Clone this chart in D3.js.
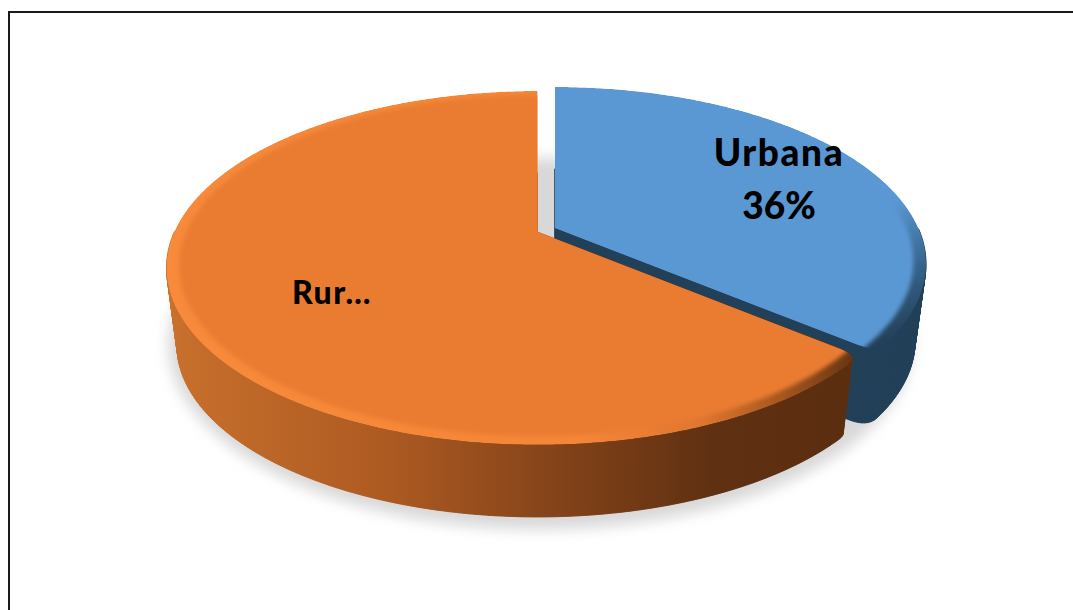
<!DOCTYPE html>
<html>
<head>
<meta charset="utf-8">
<script src="https://cdn.jsdelivr.net/npm/d3@7"></script>
<style>
html, body { margin: 0; padding: 0; background: #fff; overflow: hidden; }
svg { display: block; }
text { font-family: Lato, "Open Sans", sans-serif; font-weight: 900; fill: #000; text-anchor: middle; }
</style>
</head>
<body>
<svg id="chart" width="1073" height="610"></svg>
<script>
// Population share by area
const categories = ["Urbana", "Rural"];
const shares = [36, 64];
const shownLabels = [["Urbana", "36%"], ["Rur…"]];

const svg = d3.select("#chart");
const defs = svg.append("defs");

// Perspective view of the pie: the unit disc (u to the right, v toward the viewer)
// is mapped on to a tilted ellipse whose centre sits above the ellipse middle.
const tilt = 0.203;
const topFace = { x: 537.5, y: 232, a: 363.3, b: 169.6, pull: [17.5, -4] };
const baseFace = { x: 537.5, y: 310, a: 353.1, b: 164.9, pull: [17, -4] };

function project(face, u, v) {
  const w = 1 - tilt * v;
  return [face.x + face.a * u / w, face.y + face.b * v / w];
}

const pie = d3.pie().sort(null).value(d => d).startAngle(0).endAngle(2 * Math.PI);
const arcs = pie(shares);
const line = d3.line();

// Only the first slice is pulled away from the centre
const offset = (face, i) => (i === 0 ? face.pull : [0, 0]);
function point(face, i, r, t) {
  const [x, y] = project(face, r * Math.sin(t), -r * Math.cos(t));
  const [dx, dy] = offset(face, i);
  return [x + dx, y + dy];
}
function hub(face, i) {
  return point(face, i, 0, 0);
}
// Outer edge of a slice. The corner at the shared boundary of the two slices is rounded.
function rim(face, d, i) {
  const tip = i === 0 ? d.endAngle : d.startAngle;
  const back = i === 0 ? -1 : 1;
  const span = 0.05;
  const a0 = i === 0 ? d.startAngle : d.startAngle + span;
  const a1 = i === 0 ? d.endAngle - span : d.endAngle;
  const n = Math.ceil((a1 - a0) / 0.01);
  const arc = d3.range(n + 1).map(k => point(face, i, 1, a0 + (a1 - a0) * k / n));
  const p0 = point(face, i, 1, tip + back * span);
  const p1 = point(face, i, 1, tip);
  const p2 = point(face, i, 0.95, tip);
  const corner = d3.range(1, 9).map(k => {
    const s = k / 8;
    return [0, 1].map(c => (1 - s) * (1 - s) * p0[c] + 2 * s * (1 - s) * p1[c] + s * s * p2[c]);
  });
  return i === 0 ? [...arc, ...corner] : [...corner.reverse(), ...arc];
}
const sector = (face, d, i) => line([hub(face, i), ...rim(face, d, i)]) + "Z";
const disc = (face, i, r) => line(d3.range(0, 2 * Math.PI, 0.01).map(t => point(face, i, r, t))) + "Z";

// Solid of a slice, as separate pieces: base face plus a quad for every outline step
// that faces the viewer.
function bodyParts(d, i) {
  const top = [hub(topFace, i), ...rim(topFace, d, i)];
  const bottom = [hub(baseFace, i), ...rim(baseFace, d, i)];
  const hubY = top[0][1];
  const parts = [sector(baseFace, d, i)];
  top.forEach((p, k) => {
    const nx = (k + 1) % top.length;
    if (Math.min(p[1], top[nx][1]) < hubY - 1) return;
    parts.push(line([p, top[nx], bottom[nx], bottom[k]]) + "Z");
  });
  return parts;
}

function gradient(id, x1, y1, x2, y2, stops) {
  const g = defs.append("linearGradient").attr("id", id).attr("gradientUnits", "userSpaceOnUse")
    .attr("x1", x1).attr("y1", y1).attr("x2", x2).attr("y2", y2);
  stops.forEach(([o, c]) => g.append("stop").attr("offset", o).attr("stop-color", c));
}
function blur(id, sd) {
  defs.append("filter").attr("id", id).attr("x", "-10%").attr("y", "-10%").attr("width", "120%").attr("height", "120%")
    .append("feGaussianBlur").attr("stdDeviation", sd);
}
blur("shadowBlur", 7);
blur("bevelBlur", 2.2);

gradient("ruralWall", 170, 0, 850, 0, [
  [0, "#c8702c"], [0.32, "#ad5a22"], [0.58, "#824219"], [0.8, "#5f3011"], [1, "#5c2e10"]
]);
gradient("ruralBevel", 167, 0, 850, 0, [
  [0, "#f78a3b"], [0.6, "#f58638"], [0.78, "#e07730"], [0.9, "#a5571f"], [1, "#6b3713"]
]);
gradient("urbanBevel", 800, 130, 890, 340, [
  [0, "#5a98d4"], [0.45, "#5a98d4"], [0.75, "#37648c"], [1, "#244059"]
]);

// Frame around the chart area
svg.append("path").attr("d", "M9,610V12H1073").attr("fill", "none").attr("stroke", "#1a1a1a").attr("stroke-width", 2);

// Soft ground shadow, also seen through the gap between the slices
svg.append("path")
  .attr("d", disc({ x: 540, y: 306, a: 364, b: 178 }, 1, 1))
  .attr("fill", "#d8d8d8").attr("filter", "url(#shadowBlur)");

const faceFill = ["#5a98d4", "#ea7c30"];
const wallFill = ["#234059", "url(#ruralWall)"];
const bevelFill = ["url(#urbanBevel)", "url(#ruralBevel)"];

arcs.forEach((d, i) => {
  const slice = svg.append("g").attr("class", "slice").datum(categories[i]);
  slice.append("g").selectAll("path").data(bodyParts(d, i)).join("path")
    .attr("d", p => p).attr("fill", wallFill[i]).attr("stroke", wallFill[i]).attr("stroke-width", 0.6);

  const clipId = "face" + i;
  defs.append("clipPath").attr("id", clipId).append("path").attr("d", sector(topFace, d, i));
  const face = slice.append("g").attr("clip-path", `url(#${clipId})`);
  face.append("path").attr("d", sector(topFace, d, i)).attr("fill", bevelFill[i]);
  face.append("path").attr("d", disc(topFace, i, 0.967)).attr("fill", faceFill[i]).attr("filter", "url(#bevelBlur)");
});

// Data labels
const labelSpots = [[779, [166, 219]], [332, [304]]];
const labelTracking = [[1.6, 0], [1.5]];
shownLabels.forEach((rows, i) => {
  rows.forEach((row, k) => {
    svg.append("text").attr("x", labelSpots[i][0]).attr("y", labelSpots[i][1][k])
      .attr("letter-spacing", labelTracking[i][k])
      .attr("font-size", i === 0 ? 37 : 32).text(row);
  });
});
</script>
</body>
</html>
